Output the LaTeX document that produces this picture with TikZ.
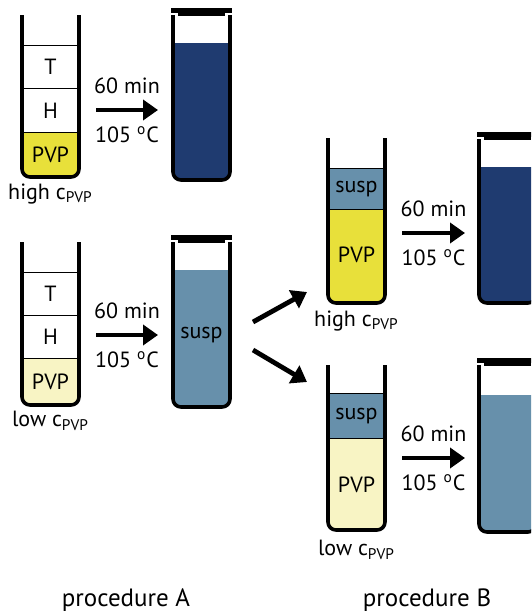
\documentclass[tikz,border=0pt]{standalone}
\usepackage{fontspec}
\setmainfont{PT Sans}
\usetikzlibrary{arrows.meta}

\definecolor{pvphigh}{RGB}{232,224,58}
\definecolor{pvplow}{RGB}{248,244,196}
\definecolor{gel}{RGB}{31,59,112}
\definecolor{susp}{RGB}{103,144,171}

\tikzset{
  wall/.style={line width=1.8pt, rounded corners=4pt},
  layer/.style={line width=0.5pt},
  heat/.style={line width=2.4pt, -{Triangle[length=7.5pt,width=10pt]}},
  lbl/.style={font=\fontsize{11}{13}\selectfont, inner sep=0pt},
  title/.style={font=\fontsize{12.5}{14}\selectfont, inner sep=0pt},
}

% tube walls: left x, top y, bottom y
\newcommand{\tubewall}[3]{\draw[wall] (#1,#2) -- (#1,#3) -- (#1+57,#3) -- (#1+57,#2);}
% filling inside a tube: left x, top of fill, bottom y, colour
\newcommand{\tubefill}[4]{\begin{scope}
  \clip (#1-5,#2) rectangle (#1+62,#3+5);
  \fill[#4, rounded corners=4pt] (#1,#2-10) -- (#1,#3) -- (#1+57,#3) -- (#1+57,#2-10) -- cycle;
\end{scope}}
% layer boundary
\newcommand{\tubeline}[2]{\draw[layer] (#1,#2) -- (#1+57,#2);}
% lid on a closed tube: left x, top y
\newcommand{\tubecap}[2]{\fill (#1-2,#2-7) rectangle (#1+59,#2-2); \fill (#1+5,#2-2) rectangle (#1+52,#2+1);}

\begin{document}
\begin{tikzpicture}[x=0.5pt,y=-0.5pt]
\useasboundingbox (0,0) rectangle (531,616);
\clip (0,0) rectangle (531,616);

% procedure A, high PVP
\tubefill{22}{132}{177}{pvphigh}
\tubeline{22}{45}
\tubeline{22}{88}
\tubeline{22}{132}
\tubewall{22}{15}{177}
\node[lbl] (t1) at (50.5,67) {T};
\node[lbl] (h1) at (50.5,111) {H};
\node[lbl] (p1) at (50.5,155) {PVP};
\node[lbl] (c1) at (50.5,194) {high c\textsubscript{PVP}};

\coordinate (a1s) at (96,110);
\coordinate (a1e) at (158,110);
\draw[heat] (a1s) -- (a1e) node[lbl, midway, above=7pt] (m1) {60 min} node[lbl, midway, below=7pt] (d1) {105 \textsuperscript{o}C};

\tubefill{173}{43}{180}{gel}
\tubewall{173}{15}{180}
\tubecap{173}{15}

% procedure A, low PVP
\tubefill{22}{358}{405}{pvplow}
\tubeline{22}{272}
\tubeline{22}{315}
\tubeline{22}{358}
\tubewall{22}{242}{405}
\node[lbl] (t2) at (50.5,294) {T};
\node[lbl] (h2) at (50.5,337) {H};
\node[lbl] (p2) at (50.5,382) {PVP};
\node[lbl] (c2) at (50.5,421) {low c\textsubscript{PVP}};

\coordinate (a2s) at (96,335);
\coordinate (a2e) at (158,335);
\draw[heat] (a2s) -- (a2e) node[lbl, midway, above=7pt] (m2) {60 min} node[lbl, midway, below=7pt] (d2) {105 \textsuperscript{o}C};

\tubefill{173}{270}{407}{susp}
\tubewall{173}{242}{407}
\tubecap{173}{242}
\node[lbl] (s0) at (201.5,335) {susp};

% split into two tubes
\coordinate (b1s) at (253,322);
\coordinate (b1e) at (307,292);
\coordinate (b2s) at (253,350);
\coordinate (b2e) at (307,382);
\draw[heat] (b1s) -- (b1e);
\draw[heat] (b2s) -- (b2e);

% procedure B, high PVP
\tubefill{328}{209}{303}{pvphigh}
\fill[susp] (328,168) rectangle (385,209);
\tubeline{328}{168}
\tubeline{328}{209}
\tubewall{328}{138}{303}
\node[lbl] (s1) at (356.5,189) {susp};
\node[lbl] (p3) at (356.5,255) {PVP};
\node[lbl] (c3) at (356.5,321) {high c\textsubscript{PVP}};

\coordinate (a3s) at (402,233);
\coordinate (a3e) at (465,233);
\draw[heat] (a3s) -- (a3e) node[lbl, midway, above=7pt] (m3) {60 min} node[lbl, midway, below=7pt] (d3) {105 \textsuperscript{o}C};

\tubefill{479}{167}{303}{gel}
\tubewall{479}{139}{303}
\tubecap{479}{139}

% procedure B, low PVP
\tubefill{328}{438}{530}{pvplow}
\fill[susp] (328,393) rectangle (385,438);
\tubeline{328}{393}
\tubeline{328}{438}
\tubewall{328}{365}{530}
\node[lbl] (s2) at (356.5,416) {susp};
\node[lbl] (p4) at (356.5,485) {PVP};
\node[lbl] (c4) at (356.5,550) {low c\textsubscript{PVP}};

\coordinate (a4s) at (402,458);
\coordinate (a4e) at (465,458);
\draw[heat] (a4s) -- (a4e) node[lbl, midway, above=7pt] (m4) {60 min} node[lbl, midway, below=7pt] (d4) {105 \textsuperscript{o}C};

\tubefill{479}{395}{532}{susp}
\tubewall{479}{365}{532}
\tubecap{479}{365}

% captions
\node[title] (pa) at (126,600) {procedure A};
\node[title] (pb) at (427,600) {procedure B};
\end{tikzpicture}
\end{document}
